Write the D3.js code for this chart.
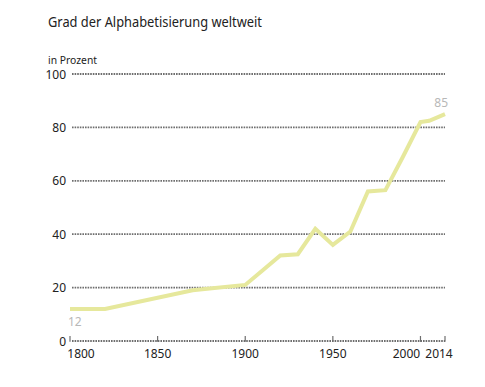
<!DOCTYPE html>
<html>
<head>
<meta charset="utf-8">
<script src="https://cdn.jsdelivr.net/npm/d3@7"></script>
<style>
  body { margin: 0; background: #fff; }
  text { font-family: "Noto Sans", sans-serif; }
</style>
</head>
<body>
<div id="chart"></div>
<script>
// data
const years  = [1800, 1820, 1870, 1900, 1910, 1920, 1930, 1940, 1950, 1960, 1970, 1980, 1990, 2000, 2005, 2014];
const values = [12, 12, 19, 21, 26.5, 32, 32.5, 42, 36, 41, 56, 56.5, 69, 82, 82.5, 85];
const yTicks = [0, 20, 40, 60, 80, 100];
const xTicks = [1800, 1850, 1900, 1950, 2000, 2014];

const width = 485, height = 387;
const margin = {left: 70, right: 40, top: 74, bottom: 46};

const svg = d3.select("#chart").append("svg")
    .attr("width", width)
    .attr("height", height);

const xScale = d3.scaleLinear()
    .domain([1800, 2014])
    .range([margin.left, width - margin.right]);
const yScale = d3.scaleLinear()
    .domain([0, 100])
    .range([height - margin.bottom, margin.top]);

// title
svg.append("text")
    .attr("x", 48).attr("y", 27)
    .attr("font-size", 14.5)
    .attr("fill", "#222")
    .attr("textLength", 214)
    .attr("lengthAdjust", "spacingAndGlyphs")
    .text("Grad der Alphabetisierung weltweit");
svg.append("text")
    .attr("x", 48).attr("y", 64)
    .attr("font-size", 11)
    .attr("fill", "#222")
    .attr("textLength", 49)
    .attr("lengthAdjust", "spacingAndGlyphs")
    .text("in Prozent");

// grid lines
svg.append("g").selectAll("line")
    .data(yTicks)
    .join("line")
    .attr("x1", xScale(1800) + 2)
    .attr("x2", xScale(2014))
    .attr("y1", d => yScale(d))
    .attr("y2", d => yScale(d))
    .attr("stroke", "#6e6e6e")
    .attr("stroke-width", 1.8)
    .attr("stroke-dasharray", "1.6,1");

// y labels
svg.append("g").selectAll("text")
    .data(yTicks)
    .join("text")
    .attr("x", 66)
    .attr("y", d => yScale(d) + 4.5)
    .attr("text-anchor", "end")
    .attr("font-size", 12)
    .attr("fill", "#222")
    .text(d => d);

// x ticks
const y0 = yScale(0);
svg.append("g").selectAll("line")
    .data(xTicks)
    .join("line")
    .attr("x1", d => xScale(d))
    .attr("x2", d => xScale(d))
    .attr("y1", y0 - 5)
    .attr("y2", y0 + 0.8)
    .attr("stroke", "#6e6e6e")
    .attr("stroke-width", 1.2);

const labelShift = {1800: 11, 2000: -14, 2014: -6};
svg.append("g").selectAll("text")
    .data(xTicks)
    .join("text")
    .attr("x", d => xScale(d) + (labelShift[d] || 0))
    .attr("y", y0 + 17)
    .attr("text-anchor", "middle")
    .attr("font-size", 12)
    .attr("fill", "#222")
    .text(d => d);

// line
const data = years.map((y, i) => ({year: y, value: values[i]}));
const line = d3.line()
    .x(d => xScale(d.year))
    .y(d => yScale(d.value));

svg.append("path")
    .datum(data)
    .attr("fill", "none")
    .attr("stroke", "#e6e89c")
    .attr("stroke-width", 4)
    .attr("stroke-linejoin", "miter")
    .attr("d", line);

// end labels
const first = data[0], last = data[data.length - 1];
svg.append("text")
    .attr("x", xScale(first.year) - 2)
    .attr("y", yScale(first.value) + 17)
    .attr("font-size", 12)
    .attr("fill", "#b8b8b8")
    .text(first.value);
svg.append("text")
    .attr("x", xScale(last.year) + 3)
    .attr("y", yScale(last.value) - 7)
    .attr("text-anchor", "end")
    .attr("font-size", 12)
    .attr("fill", "#b8b8b8")
    .text(last.value);
</script>
</body>
</html>
